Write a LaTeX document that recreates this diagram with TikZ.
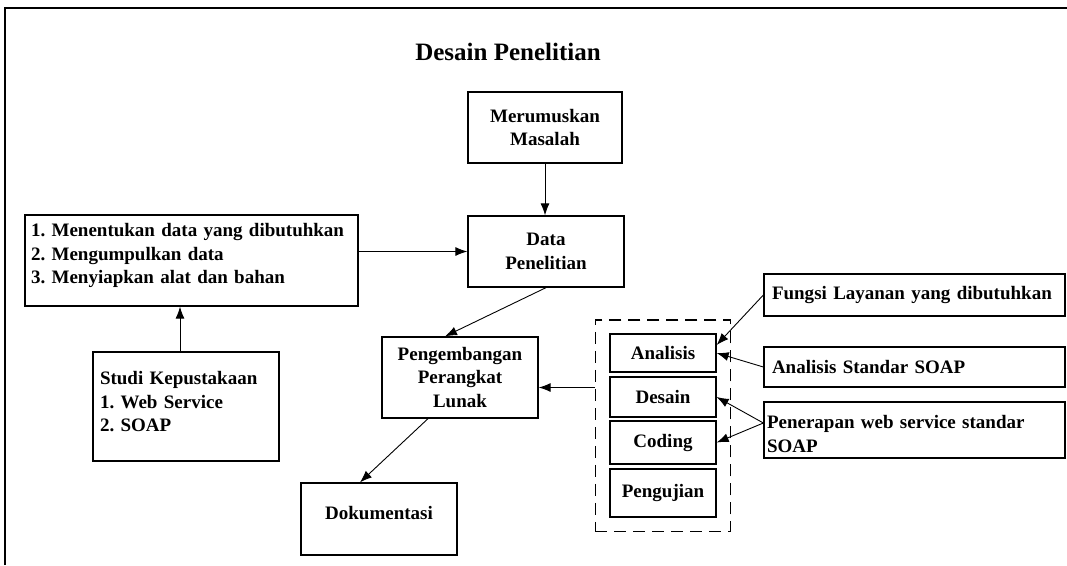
\documentclass[tikz,border=0pt]{standalone}
\usepackage{fontspec}
\setmainfont{Liberation Serif}
\usetikzlibrary{arrows.meta,fit}
\frenchspacing
\hyphenpenalty=10000

\begin{document}
\begin{tikzpicture}[x=1pt,y=-1pt,
    font=\bfseries\fontsize{19}{23.5}\selectfont,
    Box/.style={draw, line width=1.3pt, inner xsep=6pt, inner ysep=0pt},
    Edge/.style={-{Latex[length=12pt,width=9pt]}, line width=0.9pt}]
    \useasboundingbox (0,0) rectangle (1067,565);

    % Frame
    \draw[line width=2pt] (5,565) -- (5,8) -- (1067,8);
    \node (judul) at (508,52) {\fontsize{25}{30}\selectfont Desain Penelitian};

    % Boxes
    \node[Box, minimum width=154pt, minimum height=71pt, align=center] (masalah) at (545,127.5) {Merumuskan\\Masalah};
    \node[Box, minimum width=156pt, minimum height=71pt, align=center] (data) at (546,251.5) {Data\\Penelitian};
    \node[Box, minimum height=91pt, text width=321pt, text depth=61pt, align=left] (persiapan) at (191.5,260.5)
        {1. Menentukan data yang dibutuhkan\\2. Mengumpulkan data\\3. Menyiapkan alat dan bahan};
    \node[Box, inner xsep=7pt, minimum height=109pt, text width=172pt, text depth=57pt, align=left] (studi) at (186,406.5)
        {Studi Kepustakaan\\1. Web Service\\2. SOAP};
    \node[Box, minimum width=156pt, minimum height=81pt, align=center] (peng) at (460,377.5) {Pengembangan\\Perangkat\\Lunak};
    \node[Box, minimum width=156pt, minimum height=72pt, text depth=12pt] (dok) at (379,519) {Dokumentasi};

    % Phases
    \node[Box, minimum width=106pt, minimum height=38pt] (analisis) at (663,353) {Analisis};
    \node[Box, minimum width=106pt, minimum height=40pt] (desain) at (663,397) {Desain};
    \node[Box, minimum width=106pt, minimum height=43pt] (coding) at (663,442.5) {Coding};
    \node[Box, minimum width=106pt, minimum height=48pt] (pengujian) at (663,493) {Pengujian};
    \node[draw, line width=1.3pt, dash pattern=on 12pt off 7pt, fit=(analisis)(pengujian),
        inner xsep=14pt, inner ysep=13.5pt] (tahap) {};

    % Inputs
    \node[Box, inner xsep=8pt, minimum height=42pt, text width=285pt, align=left] (fungsi) at (914.5,295) {Fungsi Layanan yang dibutuhkan};
    \node[Box, inner xsep=8pt, minimum height=40pt, text width=285pt, align=left] (standar) at (914.5,367) {Analisis Standar SOAP};
    \node[Box, inner xsep=3pt, minimum height=56pt, text width=295pt, text height=21pt, align=left] (penerapan) at (914.5,430) {Penerapan web service standar\\SOAP};

    % Edges
    \draw[Edge] (masalah.south) -- (masalah.south |- data.north);
    \draw[Edge] (persiapan.east |- data.west) -- (data.west);
    \draw[Edge] ([xshift=-6pt]studi.north) -- ([xshift=-6pt]studi.north |- persiapan.south);
    \draw[Edge] (data.south) -- ([xshift=-15pt]peng.north);
    \draw[Edge] ([xshift=-32pt]peng.south) -- ([xshift=-19pt]dok.north);
    \coordinate (masuk) at ([yshift=-10pt]peng.east);
    \draw[Edge] (tahap.west |- masuk) -- (masuk);

    % Inputs to phases
    \draw[Edge] (fungsi.west) -- ([yshift=8pt]analisis.east);
    \draw[Edge] (standar.west) -- (analisis.east);
    \draw[Edge] ([yshift=7pt]penerapan.west) -- (desain.east);
    \draw[Edge] ([yshift=7pt]penerapan.west) -- (coding.east);

\end{tikzpicture}
\end{document}
